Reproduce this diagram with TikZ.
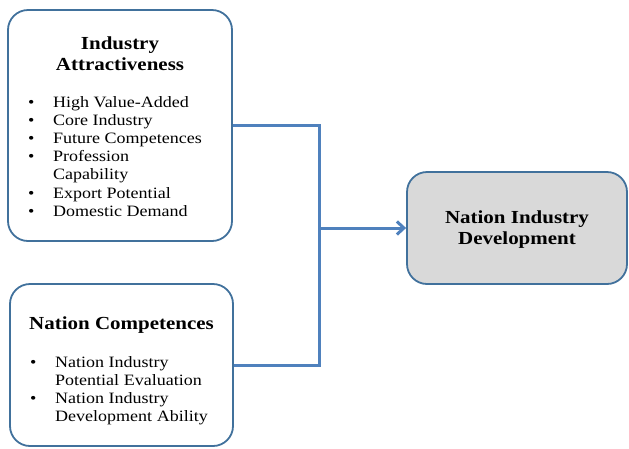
\documentclass[tikz,border=0pt]{standalone}
\usepackage{fontspec}
\setmainfont[FakeStretch=1.14]{Liberation Serif}
\usepackage{xcolor}
\usetikzlibrary{arrows.meta}
\definecolor{boxedge}{HTML}{41719C}
\definecolor{linkblue}{HTML}{4F81BD}
\definecolor{boxgray}{HTML}{D9D9D9}
\newcommand{\itemrow}[1]{\textbullet & #1\\}
\newcommand{\controw}[1]{ & #1\\}

\begin{document}
\begin{tikzpicture}[x=1pt,y=-1pt]
\tikzstyle{block}=[draw=boxedge,line width=1.8pt,rounded corners=20pt,shape=rectangle,inner sep=0pt]
\tikzstyle{title}=[inner sep=0pt,anchor=base,font=\fontsize{18.4}{21}\selectfont\bfseries]
\tikzstyle{items}=[inner sep=0pt,anchor=base west,font=\fontsize{15.8}{18.2}\selectfont]
\tikzstyle{link}=[draw=linkblue,line width=3pt]
\useasboundingbox (0,0) rectangle (629,448);
%
\node[block,minimum width=224pt,minimum height=231pt](ia) at (120,125.5){};
\node[block,minimum width=223pt,minimum height=162pt](nc) at (121.5,365){};
\node[block,fill=boxgray,minimum width=220pt,minimum height=112pt](nid) at (517,228){};
%
\node[title](iatitle) at (120,49){\begin{tabular}[t]{@{}c@{}}Industry\\Attractiveness\end{tabular}};
\node[items](ialist) at (28,107){\begin{tabular}[t]{@{}p{25pt}@{}l@{}}
\itemrow{High Value-Added}
\itemrow{Core Industry}
\itemrow{Future Competences}
\itemrow{Profession}
\controw{Capability}
\itemrow{Export Potential}
\itemrow{Domestic Demand}
\end{tabular}};
%
\node[title](nctitle) at (121.5,329){Nation Competences};
\node[items](nclist) at (30,367){\begin{tabular}[t]{@{}p{25pt}@{}l@{}}
\itemrow{Nation Industry}
\controw{Potential Evaluation}
\itemrow{Nation Industry}
\controw{Development Ability}
\end{tabular}};
%
\node[title](nidtitle) at (517,223){\begin{tabular}[t]{@{}c@{}}Nation Industry\\Development\end{tabular}};
%
\coordinate (jn) at (319,228);
\draw[link] (ia.east) -| (jn);
\draw[link] (nc.east) -| (jn);
\draw[link,-{Straight Barb[length=7pt,width=13pt]}] (jn) -- (nid.west);
\end{tikzpicture}
\end{document}
